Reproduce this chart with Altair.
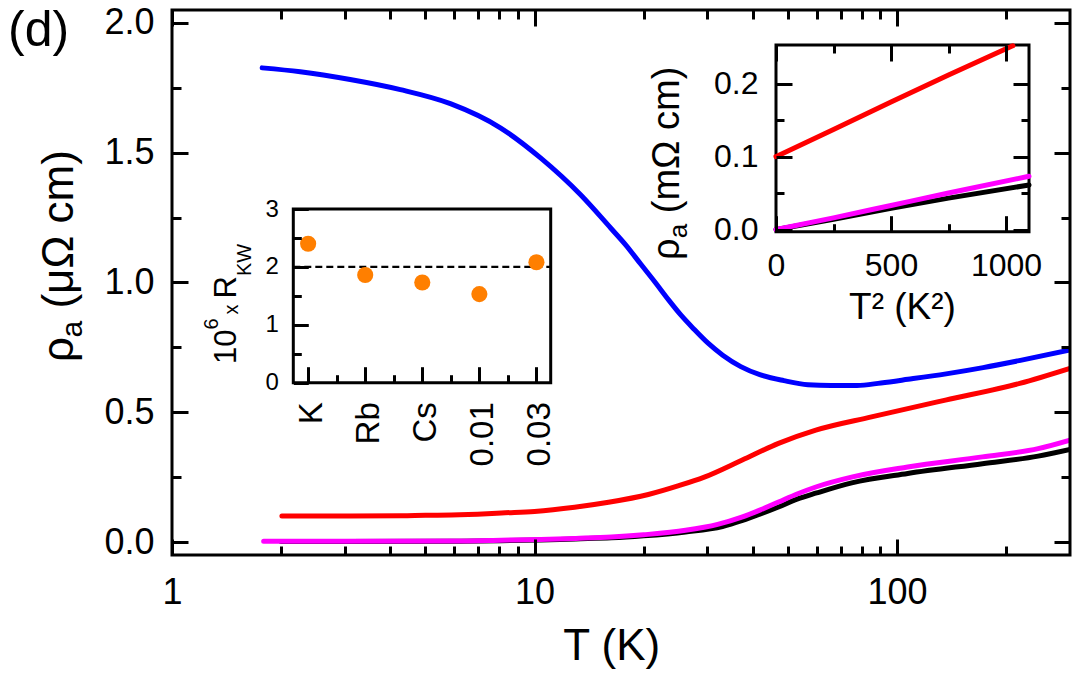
import altair as alt
import pandas as pd

FONT = "Liberation Sans"

# ---------------- main panel data: rho_a (µΩ cm) vs T (K) ----------------
blue_T = [1.773, 2.258, 3.10, 4.265, 5.86, 8.05, 10.39, 13.42, 16.22, 17.84, 19.63, 21.59, 23.46, 25.32,
          27.50, 30.06, 33.05, 37.07, 41.83, 48.73, 56.77, 65.73, 77.52, 90.33, 107.2, 136.6, 172.8, 217.3, 300]
blue_rho = [1.827, 1.812, 1.782, 1.743, 1.689, 1.596, 1.480, 1.337, 1.210, 1.145, 1.071, 0.998, 0.932, 0.875,
            0.821, 0.767, 0.720, 0.676, 0.645, 0.622, 0.606, 0.603, 0.603, 0.613, 0.627, 0.648, 0.672, 0.699, 0.740]

red_T = [2.01, 3.1, 4.3, 5.0, 5.9, 7.4, 8.1, 10.0, 12.9, 16.0, 20.6, 25.0, 29.4, 37.3, 47.1, 59.7, 85, 136, 218, 300]
red_rho = [0.100, 0.100, 0.101, 0.103, 0.104, 0.109, 0.112, 0.118, 0.134, 0.153, 0.183, 0.217, 0.250, 0.315, 0.380, 0.431, 0.482, 0.547, 0.611, 0.669]

magenta_T = [1.79, 3.0, 5.9, 8.1, 10.4, 13.0, 16.3, 20.0, 26.1, 32.0, 37.3, 42.0, 47.1, 53.0, 59.7, 75.4, 107, 172, 245, 300]
magenta_rho = [0.003, 0.003, 0.004, 0.007, 0.010, 0.014, 0.019, 0.028, 0.045, 0.068, 0.096, 0.124, 0.154, 0.185, 0.212, 0.251, 0.289, 0.328, 0.360, 0.393]

black_T = [2.0, 3.0, 5.9, 8.1, 10.4, 13.0, 16.3, 20.0, 26.1, 33.0, 37.3, 42.0, 47.1, 53.0, 60.0, 75.0, 107, 172, 245, 300]
black_rho = [0.002, 0.002, 0.003, 0.005, 0.008, 0.012, 0.016, 0.024, 0.039, 0.060, 0.082, 0.108, 0.135, 0.165, 0.189, 0.228, 0.264, 0.302, 0.331, 0.357]

# ---------------- inset 1: rho_a vs T^2 ----------------
red_ins_T2 = [0, 250, 500, 750, 1030]
red_ins_rho = [0.100, 0.137, 0.175, 0.212, 0.252]
mag_ins_T2 = [0, 250, 500, 750, 1100]
mag_ins_rho = [0.000, 0.016, 0.033, 0.050, 0.073]
blk_ins_T2 = [0, 250, 500, 750, 1100]
blk_ins_rho = [0.000, 0.014, 0.029, 0.043, 0.061]

# ---------------- inset 2: Kadowaki-Woods ratio ----------------
samples = ["K", "Rb", "Cs", "0.01", "0.03"]
rkw = [2.40, 1.86, 1.73, 1.53, 2.08]
ref_level = [2.0]

# ---------------- tick values ----------------
main_x_major = [1, 10, 100]
main_x_minor = [2, 3, 4, 5, 6, 7, 8, 9, 20, 30, 40, 50, 60, 70, 80, 90, 200]
main_y_major = [0.0, 0.5, 1.0, 1.5, 2.0]
main_y_minor = [0.25, 0.75, 1.25, 1.75]
ins1_x_major = [0, 500, 1000]
ins1_x_minor = [250, 750]
ins1_y_major = [0.0, 0.1, 0.2]
ins1_y_minor = [0.05, 0.15]
ins2_x_major = [0, 1, 2, 3, 4]
ins2_x_minor = [0.5, 1.5, 2.5, 3.5]
ins2_y_major = [0, 1, 2, 3]
ins2_y_minor = [0.5, 1.5, 2.5]

# ---------------- layout (plot-area pixels) ----------------
W, H = 898, 545
sx_dom = [1, 300]
sy_dom = [-0.05, 2.05]
sx = alt.Scale(type="log", domain=sx_dom, nice=False)
sy = alt.Scale(domain=sy_dom, nice=False, zero=False)
I1L, I1R, I1T, I1B = 604, 857, 35, 221.7
s1x_dom = [0, 1100]
s1y_dom = [-0.003, 0.253]
s1x = alt.Scale(domain=s1x_dom, range=[I1L, I1R], nice=False, zero=False)
s1y = alt.Scale(domain=s1y_dom, range=[I1B, I1T], nice=False, zero=False)
I2L, I2R, I2T, I2B = 121.3, 378.7, 199, 372.7
s2x_dom = [-0.26, 4.25]
s2y_dom = [0, 3]
s2x = alt.Scale(domain=s2x_dom, range=[I2L, I2R], nice=False, zero=False)
s2y = alt.Scale(domain=s2y_dom, range=[I2B, I2T], nice=False, zero=False)

one = pd.DataFrame({"k": [0]})


def ax_layer(ch, scale, orient, offset, values, size=0, labels=False, **kw):
    df = pd.DataFrame({"v": values})
    axis = alt.Axis(orient=orient, offset=offset, values=values, ticks=size > 0,
                    tickSize=size, tickWidth=3, tickColor="black", domain=False,
                    labels=labels, grid=False, title=None, zindex=2,
                    labelFont=FONT, labelColor="black", labelFlush=False,
                    labelOverlap=False, **kw)
    if ch == "x":
        enc = {"x": alt.X("v:Q", scale=scale, axis=axis)}
    else:
        enc = {"y": alt.Y("v:Q", scale=scale, axis=axis)}
    return alt.Chart(df).mark_point(opacity=0).encode(**enc)


def curve(T, rho, color, xs, ys, width):
    df = pd.DataFrame({"T": T, "rho": rho})
    return alt.Chart(df).mark_line(color=color, strokeWidth=width, interpolate="monotone",
                                   strokeCap="round", clip=True).encode(
        x=alt.X("T:Q", scale=xs, axis=None), y=alt.Y("rho:Q", scale=ys, axis=None))


def frame(xs, ys, xd, yd):
    return alt.Chart(one).mark_rect(filled=False, stroke="black", strokeWidth=3).encode(
        x=alt.X(datum=xd[0], type="quantitative", scale=xs, axis=None), x2=alt.X2(datum=xd[1]),
        y=alt.Y(datum=yd[0], type="quantitative", scale=ys, axis=None), y2=alt.Y2(datum=yd[1]))


def label(text, x, y, size, angle=0, align="left"):
    kw = {}
    if angle:
        kw["angle"] = angle
    return alt.Chart(one).mark_text(text=text, font=FONT, fontSize=size, align=align,
                                    baseline="alphabetic", color="black", **kw).encode(
        x=alt.value(x), y=alt.value(y))


# ---------------- main panel ----------------
main = alt.layer(
    curve(black_T, black_rho, "black", sx, sy, 5),
    curve(magenta_T, magenta_rho, "#FF00FF", sx, sy, 5),
    curve(red_T, red_rho, "#FF0000", sx, sy, 5),
    curve(blue_T, blue_rho, "#0000FF", sx, sy, 5),
    frame(sx, sy, sx_dom, sy_dom),
    ax_layer("x", sx, "bottom", 0, main_x_major, labels=True, labelFontSize=36, labelPadding=20, format="d"),
    ax_layer("x", sx, "top", -H, main_x_major, size=16),
    ax_layer("x", sx, "top", -H, main_x_minor, size=9),
    ax_layer("x", sx, "bottom", -H, main_x_major, size=16),
    ax_layer("x", sx, "bottom", -H, main_x_minor, size=9),
    ax_layer("y", sy, "left", 0, main_y_major, labels=True, labelFontSize=36, labelPadding=18, format=".1f"),
    ax_layer("y", sy, "right", -W, main_y_major, size=16),
    ax_layer("y", sy, "right", -W, main_y_minor, size=9),
    ax_layer("y", sy, "left", -W, main_y_major, size=16),
    ax_layer("y", sy, "left", -W, main_y_minor, size=9),
    label("(d)", -164, 36, 50),
    label("T (K)", 439.7, 650, 44, align="center"),
    label("ρ", -99.5, 352, 44, angle=270),
    label("a", -90, 327.5, 30, angle=270),
    label("(μΩ cm)", -99.5, 298.6, 44, angle=270),
).resolve_axis(x="independent", y="independent")

# ---------------- inset 1 ----------------
ins1 = alt.layer(
    frame(s1x, s1y, s1x_dom, s1y_dom),
    curve(blk_ins_T2, blk_ins_rho, "black", s1x, s1y, 5),
    curve(mag_ins_T2, mag_ins_rho, "#FF00FF", s1x, s1y, 5),
    curve(red_ins_T2, red_ins_rho, "#FF0000", s1x, s1y, 5),
    ax_layer("x", s1x, "bottom", I1B - H, ins1_x_major, labels=True, labelFontSize=32, labelPadding=19, format="d"),
    ax_layer("x", s1x, "top", -I1B, ins1_x_major, size=16),
    ax_layer("x", s1x, "top", -I1B, ins1_x_minor, size=8),
    ax_layer("x", s1x, "bottom", I1T - H, ins1_x_major, size=16),
    ax_layer("x", s1x, "bottom", I1T - H, ins1_x_minor, size=8),
    ax_layer("y", s1y, "left", -I1L, ins1_y_major, labels=True, labelFontSize=32, labelPadding=18, format=".1f"),
    ax_layer("y", s1y, "right", I1L - W, ins1_y_major, size=16),
    ax_layer("y", s1y, "right", I1L - W, ins1_y_minor, size=8),
    ax_layer("y", s1y, "left", -I1R, ins1_y_major, size=16),
    ax_layer("y", s1y, "left", -I1R, ins1_y_minor, size=8),
    label("T² (K²)", 730.5, 309, 37, align="center"),
    label("ρ", 507, 250, 38, angle=270),
    label("a", 515, 228.3, 26, angle=270),
    label("(mΩ cm)", 507, 203.2, 38, angle=270),
).resolve_axis(x="independent", y="independent")

# ---------------- inset 2 ----------------
kw_df = pd.DataFrame({"pos": list(range(len(samples))), "sample": samples, "rkw": rkw})
label_expr = "[" + ",".join("'" + s + "'" for s in samples) + "][round(datum.value)]"

ins2 = alt.layer(
    frame(s2x, s2y, s2x_dom, s2y_dom),
    alt.Chart(pd.DataFrame({"r": ref_level})).mark_rule(color="black", strokeWidth=2.2, strokeDash=[7, 4]).encode(
        y=alt.Y("r:Q", scale=s2y, axis=None),
        x=alt.X(datum=s2x_dom[0], type="quantitative", scale=s2x, axis=None), x2=alt.X2(datum=s2x_dom[1])),
    alt.Chart(kw_df).mark_point(filled=True, color="#FF7F00", opacity=1, size=260).encode(
        x=alt.X("pos:Q", scale=s2x, axis=None), y=alt.Y("rkw:Q", scale=s2y, axis=None)),
    ax_layer("x", s2x, "bottom", I2B - H, ins2_x_major, labels=True, labelFontSize=33, labelPadding=19,
             labelAngle=270, labelAlign="right", labelBaseline="middle", labelOffset=3, labelExpr=label_expr),
    ax_layer("x", s2x, "top", -I2B, ins2_x_major, size=16),
    ax_layer("x", s2x, "top", -I2B, ins2_x_minor, size=8),
    ax_layer("y", s2y, "left", -I2L, ins2_y_major, labels=True, labelFontSize=24, labelPadding=15, format="d"),
    ax_layer("y", s2y, "right", I2L - W, ins2_y_major, size=15),
    ax_layer("y", s2y, "right", I2L - W, ins2_y_minor, size=8),
    label("10", 64, 354, 31, angle=270),
    label("6", 46, 319.5, 20, angle=270),
    label("x", 66, 304.4, 20, angle=270),
    label("R", 64, 288.4, 31, angle=270),
    label("KW", 79, 266, 20, angle=270),
).resolve_axis(x="independent", y="independent")

chart = alt.layer(main, ins1, ins2).resolve_scale(
    x="independent", y="independent"
).resolve_axis(
    x="independent", y="independent"
).properties(
    width=W, height=H,
    autosize=alt.AutoSizeParams(type="none"),
    padding={"left": 164, "top": 2, "right": 2, "bottom": 116},
    background="white",
).configure_view(
    stroke=None
).configure(font=FONT)

chart.save("out.html", embed_options={"renderer": "svg", "actions": False})
